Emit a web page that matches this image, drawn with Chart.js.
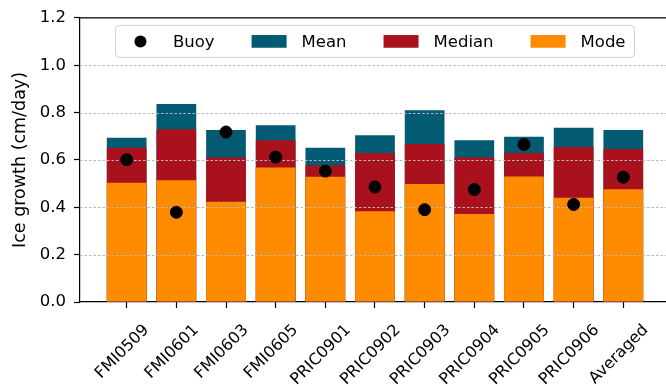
<!DOCTYPE html>
<html>
<head>
<meta charset="utf-8">
<script src="https://cdn.jsdelivr.net/npm/chart.js@4/dist/chart.umd.min.js"></script>
<style>
  html, body { margin: 0; padding: 0; background: #fff; overflow: hidden; }
  #growth { display: block; }
</style>
</head>
<body>
<canvas id="growth" width="666" height="386"></canvas>
<script>
// Ice growth rate per buoy: modelled mean / median / mode vs buoy-derived value
const categories = ['FMI0509', 'FMI0601', 'FMI0603', 'FMI0605', 'PRIC0901', 'PRIC0902',
                    'PRIC0903', 'PRIC0904', 'PRIC0905', 'PRIC0906', 'Averaged'];
const buoyVals   = [0.601, 0.379, 0.718, 0.612, 0.553, 0.486, 0.390, 0.475, 0.665, 0.412, 0.527];
const meanVals   = [0.694, 0.836, 0.726, 0.747, 0.652, 0.704, 0.810, 0.683, 0.698, 0.736, 0.726];
const medianVals = [0.652, 0.730, 0.610, 0.683, 0.578, 0.629, 0.667, 0.610, 0.629, 0.655, 0.646];
const modeVals   = [0.504, 0.514, 0.423, 0.568, 0.529, 0.383, 0.498, 0.372, 0.530, 0.440, 0.476];
const yTicks     = [0, 0.2, 0.4, 0.6, 0.8, 1.0, 1.2];

// x extent: the full axis runs -0.94..10.94, the canvas cuts it at about 10.86
const X_MIN = -0.94, X_MAX = 10.94, X_CUT = 10.86;

const COLORS = {
  buoy:   '#000000',
  mean:   '#035a73',
  median: '#a9121c',
  mode:   '#ff8c00',
};
const FONT = "'DejaVu Sans', sans-serif";

const pts = vals => vals.map((v, i) => ({ x: i, y: v }));

// dotted horizontal grid, drawn over the bars but under the buoy dots
const gridOverBars = {
  id: 'gridOverBars',
  beforeDatasetDraw(chart, args) {
    if (args.meta.type !== 'scatter') return;
    const { ctx, chartArea, scales: { y } } = chart;
    ctx.save();
    ctx.strokeStyle = '#b8b8b8';
    ctx.lineWidth = 1;
    ctx.setLineDash([2.5, 2]);
    yTicks.slice(1, -1).forEach(v => {
      const py = Math.round(y.getPixelForValue(v)) + 0.5;
      ctx.beginPath();
      ctx.moveTo(chartArea.left, py);
      ctx.lineTo(chart.width, py);
      ctx.stroke();
    });
    ctx.restore();
  },
};

// top spine
const frame = {
  id: 'frame',
  afterDraw(chart) {
    const { ctx, chartArea: a } = chart;
    ctx.save();
    ctx.strokeStyle = '#000';
    ctx.lineWidth = 1.2;
    ctx.beginPath();
    ctx.moveTo(a.left, a.top);
    ctx.lineTo(chart.width, a.top);
    ctx.stroke();
    ctx.restore();
  },
};

// category names, rotated 45deg and centred under their tick
const slantLabels = {
  id: 'slantLabels',
  afterDraw(chart) {
    const { ctx, chartArea: a, scales: { x } } = chart;
    const tickBottom = a.bottom + 6;
    const lineH = 18.7;
    ctx.save();
    ctx.font = `16px ${FONT}`;
    ctx.fillStyle = '#000';
    ctx.textAlign = 'center';
    ctx.textBaseline = 'middle';
    categories.forEach((name, i) => {
      const w = ctx.measureText(name).width;
      const cx = x.getPixelForValue(i) - 4.3;
      const cy = tickBottom + 13 + (w + lineH) / (2 * Math.SQRT2);
      ctx.save();
      ctx.translate(cx, cy);
      ctx.rotate(-Math.PI / 4);
      ctx.fillText(name, 0, 0);
      ctx.restore();
    });
    ctx.restore();
  },
};

// framed 4-column legend in the upper centre of the full axis
const boxLegend = {
  id: 'boxLegend',
  afterDraw(chart) {
    const { ctx, chartArea: a, scales: { x: xs } } = chart;
    const items = chart.data.datasets.map(ds => ({ label: ds.label, color: ds.backgroundColor, dot: ds.type === 'scatter' }));
    const handleW = 35, handleH = 12.7, textPad = 15, colGap = 37, padL = 7.5, padR = 9;
    ctx.save();
    ctx.font = `16.5px ${FONT}`;
    const widths = items.map(it => ctx.measureText(it.label).width);
    const total = padL + padR + widths.reduce((s, w) => s + handleW + textPad + w, 0) + colGap * (items.length - 1);
    const boxH = 32;
    const mid = (xs.getPixelForValue(X_MIN) + xs.getPixelForValue(X_MAX)) / 2;
    const x0 = mid - total / 2;
    const y0 = a.top + 7.5;
    const cy = y0 + boxH / 2;

    ctx.beginPath();
    ctx.roundRect(x0, y0, total, boxH, 4);
    ctx.fillStyle = 'rgba(255,255,255,0.85)';
    ctx.fill();
    ctx.strokeStyle = '#d0d0d0';
    ctx.lineWidth = 1;
    ctx.stroke();

    let x = x0 + padL;
    items.forEach((it, i) => {
      ctx.fillStyle = it.color;
      if (it.dot) {
        ctx.beginPath();
        ctx.arc(x + handleW / 2, cy, 6, 0, Math.PI * 2);
        ctx.fill();
      } else {
        ctx.fillRect(x, cy - handleH / 2, handleW, handleH);
      }
      x += handleW + textPad;
      ctx.fillStyle = '#000';
      ctx.textBaseline = 'middle';
      ctx.fillText(it.label, x, cy + 1);
      x += widths[i] + colGap;
    });
    ctx.restore();
  },
};

new Chart(document.getElementById('growth'), {
  type: 'bar',
  data: {
    datasets: [
      { type: 'scatter', label: 'Buoy', data: pts(buoyVals), order: 0,
        backgroundColor: COLORS.buoy, borderColor: COLORS.buoy, pointRadius: 6, pointHoverRadius: 6 },
      { label: 'Mean',   data: pts(meanVals),   order: 3, backgroundColor: COLORS.mean,   grouped: false },
      { label: 'Median', data: pts(medianVals), order: 2, backgroundColor: COLORS.median, grouped: false },
      { label: 'Mode',   data: pts(modeVals),   order: 1, backgroundColor: COLORS.mode,   grouped: false },
    ],
  },
  options: {
    responsive: false,
    animation: false,
    devicePixelRatio: 1,
    layout: { autoPadding: false, padding: { top: 14.7, right: 0, left: 0, bottom: 0 } },
    datasets: { bar: { barPercentage: 0.8, categoryPercentage: 1 } },
    plugins: { legend: { display: false }, tooltip: { enabled: false } },
    scales: {
      x: {
        type: 'linear',
        min: X_MIN,
        max: X_CUT,
        offset: false,
        afterBuildTicks: scale => { scale.ticks = categories.map((_, i) => ({ value: i })); },
        afterFit: scale => { scale.height = 84; },
        grid: { offset: false, drawOnChartArea: false, tickLength: 6, color: '#000', tickWidth: 1.2 },
        border: { color: '#000', width: 1.2 },
        ticks: { display: false },
      },
      y: {
        min: 0,
        max: 1.2,
        afterBuildTicks: scale => { scale.ticks = yTicks.map(v => ({ value: v })); },
        afterFit: scale => { scale.width = 80; },
        grid: { drawOnChartArea: false, tickLength: 6, color: '#000', tickWidth: 1.2 },
        border: { color: '#000', width: 1.2 },
        ticks: {
          padding: 8,
          color: '#000', font: { family: FONT, size: 16.5 },
          callback: v => v.toFixed(1),
        },
        title: {
          display: true, text: 'Ice growth (cm/day)',
          color: '#000', font: { family: FONT, size: 17.5 },
          padding: { top: 10, bottom: 0 },
        },
      },
    },
  },
  plugins: [gridOverBars, frame, slantLabels, boxLegend],
});
</script>
</body>
</html>
